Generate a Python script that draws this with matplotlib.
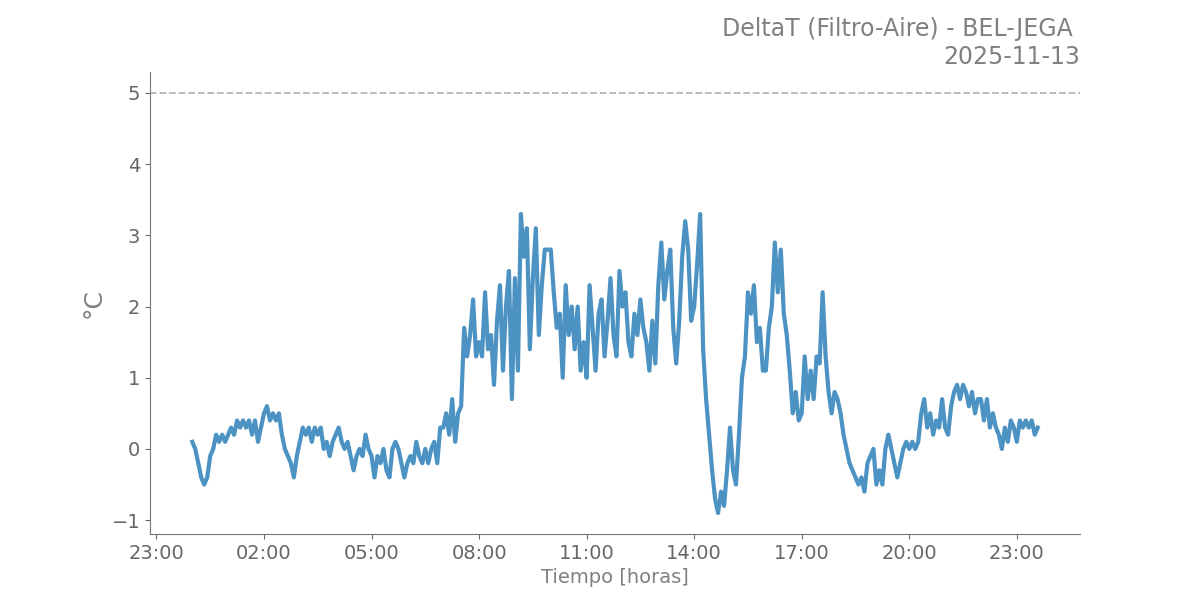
import matplotlib
matplotlib.use("Agg")
import matplotlib.pyplot as plt
import matplotlib.dates as mdates
import pandas as pd

# DeltaT readings every 5 minutes from 00:00, one row per hour
h00 = [0.1, 0.0, -0.2, -0.4, -0.5, -0.4, -0.1, 0.0, 0.2, 0.1, 0.2, 0.1]
h01 = [0.2, 0.3, 0.2, 0.4, 0.3, 0.4, 0.3, 0.4, 0.2, 0.4, 0.1, 0.3]
h02 = [0.5, 0.6, 0.4, 0.5, 0.4, 0.5, 0.2, 0.0, -0.1, -0.2, -0.4, -0.1]
h03 = [0.1, 0.3, 0.2, 0.3, 0.1, 0.3, 0.2, 0.3, 0.0, 0.1, -0.1, 0.1]
h04 = [0.2, 0.3, 0.1, 0.0, 0.1, -0.1, -0.3, -0.1, 0.0, -0.1, 0.2, 0.0]
h05 = [-0.1, -0.4, -0.1, -0.2, 0.0, -0.3, -0.4, 0.0, 0.1, 0.0, -0.2, -0.4]
h06 = [-0.2, -0.1, -0.2, 0.1, -0.1, -0.2, 0.0, -0.2, 0.0, 0.1, -0.2, 0.3]
h07 = [0.3, 0.5, 0.2, 0.7, 0.1, 0.5, 0.6, 1.7, 1.3, 1.6, 2.1, 1.3]
h08 = [1.5, 1.3, 2.2, 1.4, 1.6, 0.9, 1.8, 2.3, 1.1, 2.0, 2.5, 0.7]
h09 = [2.4, 1.1, 3.3, 2.7, 3.1, 1.4, 2.4, 3.1, 1.6, 2.3, 2.8, 2.8]
h10 = [2.8, 2.2, 1.7, 1.9, 1.0, 2.3, 1.6, 2.0, 1.4, 2.0, 1.1, 1.5]
h11 = [1.0, 2.3, 1.7, 1.1, 1.9, 2.1, 1.3, 1.8, 2.4, 1.6, 1.3, 2.5]
h12 = [2.0, 2.2, 1.5, 1.3, 1.9, 1.6, 2.1, 1.7, 1.5, 1.1, 1.8, 1.2]
h13 = [2.3, 2.9, 2.1, 2.5, 2.8, 1.7, 1.2, 1.8, 2.7, 3.2, 2.8, 1.8]
h14 = [2.0, 2.6, 3.3, 1.4, 0.7, 0.2, -0.3, -0.7, -0.9, -0.6, -0.8, -0.3]
h15 = [0.3, -0.3, -0.5, 0.2, 1.0, 1.3, 2.2, 1.9, 2.3, 1.5, 1.7, 1.1]
h16 = [1.1, 1.7, 2.0, 2.9, 2.2, 2.8, 1.9, 1.6, 1.1, 0.5, 0.8, 0.4]
h17 = [0.5, 1.3, 0.7, 1.1, 0.7, 1.3, 1.2, 2.2, 1.3, 0.8, 0.5, 0.8]
h18 = [0.7, 0.5, 0.2, 0.0, -0.2, -0.3, -0.4, -0.5, -0.4, -0.6, -0.2, -0.1]
h19 = [0.0, -0.5, -0.3, -0.5, 0.0, 0.2, 0.0, -0.2, -0.4, -0.2, 0.0, 0.1]
h20 = [0.0, 0.1, 0.0, 0.1, 0.5, 0.7, 0.3, 0.5, 0.2, 0.4, 0.3, 0.7]
h21 = [0.3, 0.2, 0.6, 0.8, 0.9, 0.7, 0.9, 0.8, 0.6, 0.8, 0.5, 0.7]
h22 = [0.7, 0.4, 0.7, 0.3, 0.5, 0.3, 0.2, 0.0, 0.3, 0.1, 0.4, 0.3]
h23 = [0.1, 0.4, 0.3, 0.4, 0.3, 0.4, 0.2, 0.3]

delta_t = (h00 + h01 + h02 + h03 + h04 + h05 + h06 + h07 + h08 + h09 + h10 + h11
           + h12 + h13 + h14 + h15 + h16 + h17 + h18 + h19 + h20 + h21 + h22 + h23)
tiempo = pd.date_range("2025-11-13 00:00", periods=len(delta_t), freq="5min")

limite = 5
titulo = "DeltaT (Filtro-Aire) - BEL-JEGA \n2025-11-13"

fig, ax = plt.subplots(figsize=(12, 6), dpi=100)

ax.plot(tiempo, delta_t, color="#1f77b4", alpha=0.8, linewidth=3)
ax.axhline(limite, color="#b5b5b5", linestyle="--", linewidth=1.3)

ax.xaxis.set_major_locator(mdates.HourLocator(byhour=[2, 5, 8, 11, 14, 17, 20, 23]))
ax.xaxis.set_major_formatter(mdates.DateFormatter("%H:%M"))

ax.spines["top"].set_visible(False)
ax.spines["right"].set_visible(False)
ax.spines["left"].set_color("#777777")
ax.spines["bottom"].set_color("#777777")
ax.tick_params(colors="#666666", labelsize=14)

ax.set_xlabel("Tiempo [horas]", fontsize=14, color="gray")
ax.set_ylabel("°C", fontsize=18, color="gray")
ax.set_title(titulo, loc="right", fontsize=17, color="gray")

fig.savefig("out.png")
